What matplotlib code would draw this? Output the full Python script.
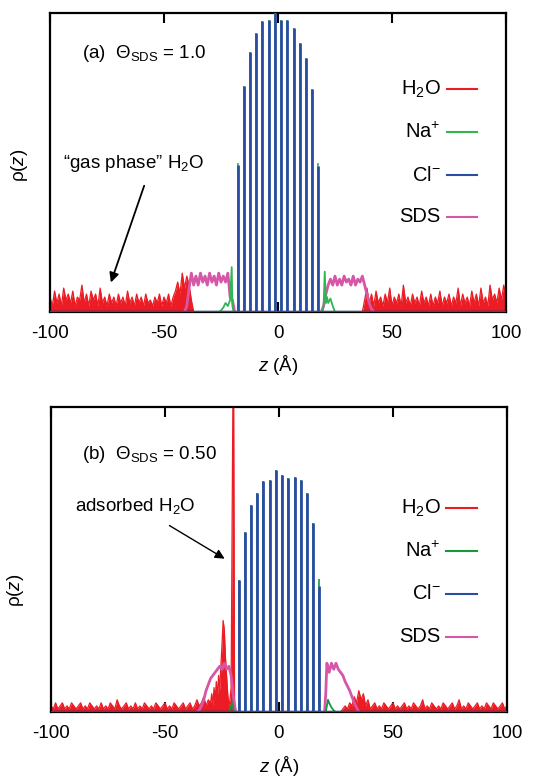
import matplotlib
matplotlib.use("Agg")
import matplotlib.pyplot as plt
import numpy as np

plt.rcParams["font.family"] = ["Liberation Sans", "DejaVu Sans"]
plt.rcParams["mathtext.fontset"] = "custom"
plt.rcParams["mathtext.rm"] = "Liberation Sans"
plt.rcParams["mathtext.it"] = "Liberation Sans:italic"

RED = "#ec1c24"
GREEN_A = "#2fb552"
GREEN_B = "#15993e"
BLUE = "#2b4ca3"
PINK = "#d656a7"

# ---- Cl- / Na+ crystal layer peaks (shared positions) ----
peak_z = [-17.6, -14.9, -12.2, -9.5, -6.8, -4.1, -1.4, 1.4, 4.1, 6.8, 9.5, 12.2, 14.9, 17.6]
cl_a = [0.49, 0.756, 0.871, 0.933, 0.972, 0.975, 1.0, 0.978, 0.975, 0.95, 0.90, 0.85, 0.745, 0.488]
na_a = [0.50, 0.756, 0.871, 0.933, 0.972, 0.975, 1.0, 0.978, 0.975, 0.95, 0.90, 0.85, 0.745, 0.497]
cl_b = [0.432, 0.590, 0.678, 0.718, 0.757, 0.762, 0.795, 0.776, 0.768, 0.770, 0.762, 0.718, 0.620, 0.412]
na_b = [0.432, 0.590, 0.678, 0.718, 0.757, 0.762, 0.795, 0.776, 0.768, 0.770, 0.762, 0.718, 0.620, 0.437]

# ---- panel (a): Theta_SDS = 1.0 ----
h2o_a_left_z = np.arange(-100, -36)
h2o_a_left = [0.05, 0.02, 0.07, 0.03, 0.06, 0.02, 0.08, 0.04, 0.06, 0.03,
              0.07, 0.02, 0.05, 0.04, 0.09, 0.03, 0.06, 0.02, 0.07, 0.04,
              0.06, 0.02, 0.08, 0.03, 0.05, 0.02, 0.06, 0.03, 0.05, 0.02,
              0.06, 0.03, 0.05, 0.02, 0.07, 0.03, 0.05, 0.02, 0.06, 0.03,
              0.05, 0.02, 0.06, 0.03, 0.04, 0.02, 0.05, 0.03, 0.06, 0.02,
              0.05, 0.03, 0.06, 0.02, 0.05,
              0.07, 0.10, 0.06, 0.13, 0.08, 0.12, 0.09, 0.04, 0.0]
h2o_a_right_z = np.arange(37, 101)
h2o_a_right = [0.0, 0.04, 0.08, 0.03, 0.06, 0.02, 0.07, 0.03, 0.05, 0.02,
               0.06, 0.03, 0.08, 0.02, 0.05, 0.03, 0.06, 0.02, 0.09, 0.03,
               0.05, 0.02, 0.06, 0.03, 0.05, 0.02, 0.07, 0.03, 0.05, 0.02,
               0.06, 0.02, 0.05, 0.03, 0.07, 0.02, 0.05, 0.03, 0.06, 0.02,
               0.05, 0.03, 0.08, 0.02, 0.06, 0.03, 0.05, 0.02, 0.07, 0.03,
               0.06, 0.02, 0.08, 0.03, 0.05, 0.02, 0.09, 0.04, 0.06, 0.03,
               0.08, 0.04, 0.09, 0.05]
sds_a_left_z = np.arange(-41, -18)
sds_a_left = [0.0, 0.02, 0.08, 0.13, 0.09, 0.12, 0.09, 0.13, 0.10, 0.12, 0.09, 0.13,
              0.10, 0.12, 0.09, 0.13, 0.10, 0.12, 0.10, 0.13, 0.05, 0.04, 0.0]
sds_a_right_z = np.arange(19, 43)
sds_a_right = [0.0, 0.02, 0.06, 0.09, 0.11, 0.09, 0.12, 0.09, 0.11, 0.09, 0.12, 0.10,
               0.11, 0.09, 0.12, 0.09, 0.11, 0.10, 0.12, 0.09, 0.06, 0.03, 0.01, 0.0]
na_a_left_z = [-26, -25, -24, -23, -22, -21, -20.3, -20, -19.6, -19]
na_a_left = [0.0, 0.005, 0.015, 0.03, 0.02, 0.04, 0.15, 0.02, 0.005, 0.0]
na_a_right_z = [19.5, 20, 20.5, 21, 21.5, 22, 23, 24, 25]
na_a_right = [0.0, 0.02, 0.135, 0.03, 0.05, 0.03, 0.045, 0.02, 0.0]

# ---- panel (b): Theta_SDS = 0.50 ----
h2o_b_left_z = np.r_[np.arange(-100, -30, 1.0), np.arange(-30, -18.5, 0.5)]
h2o_b_left = [0.02, 0.01, 0.03, 0.01, 0.02, 0.03, 0.01, 0.02, 0.01, 0.03,
              0.02, 0.01, 0.02, 0.03, 0.01, 0.02, 0.01, 0.03, 0.02, 0.01,
              0.02, 0.01, 0.03, 0.01, 0.02, 0.01, 0.03, 0.02, 0.01, 0.04,
              0.02, 0.01, 0.02, 0.03, 0.01, 0.02, 0.01, 0.03, 0.01, 0.02,
              0.01, 0.03, 0.02, 0.01, 0.02, 0.01, 0.03, 0.02, 0.01, 0.02,
              0.03, 0.01, 0.02, 0.01, 0.03, 0.02, 0.01, 0.02, 0.03, 0.01,
              0.02, 0.03, 0.01, 0.02, 0.04, 0.02, 0.03, 0.05, 0.02, 0.04,
              0.03, 0.06, 0.02, 0.08, 0.04, 0.10, 0.05, 0.12, 0.07, 0.15,
              0.22, 0.30, 0.27, 0.18, 0.12, 0.06, 0.02, 0.04, 0.08, 0.69,
              1.30, 0.03, 0.0]
h2o_b_right_z = np.arange(27, 101)
h2o_b_right = [0.0, 0.01, 0.02, 0.01, 0.03, 0.02, 0.05, 0.03, 0.07, 0.04,
               0.06, 0.02, 0.04, 0.01, 0.02, 0.03, 0.01, 0.02, 0.01, 0.03,
               0.02, 0.01, 0.02, 0.03, 0.01, 0.02, 0.01, 0.02, 0.03, 0.01,
               0.02, 0.01, 0.03, 0.02, 0.01, 0.02, 0.04, 0.01, 0.02, 0.01,
               0.03, 0.02, 0.01, 0.02, 0.01, 0.03, 0.02, 0.01, 0.02, 0.03,
               0.01, 0.02, 0.04, 0.01, 0.02, 0.01, 0.03, 0.02, 0.01, 0.02,
               0.03, 0.01, 0.02, 0.01, 0.03, 0.02, 0.01, 0.03, 0.02, 0.01,
               0.02, 0.03, 0.01, 0.02]
sds_b_left_z = np.arange(-36, -18)
sds_b_left = [0.0, 0.005, 0.02, 0.04, 0.07, 0.09, 0.11, 0.12, 0.13, 0.14, 0.15, 0.14,
              0.16, 0.14, 0.15, 0.12, 0.05, 0.0]
sds_b_right_z = [20, 20.5, 21, 22, 23, 24, 25, 26, 27, 28, 29, 30, 31, 32, 33, 34, 35]
sds_b_right = [0.0, 0.06, 0.16, 0.13, 0.16, 0.14, 0.16, 0.14, 0.13, 0.12, 0.10, 0.085,
               0.07, 0.05, 0.03, 0.015, 0.0]
na_b_left_z = [-22, -21.5, -21, -20.5, -20, -19.5]
na_b_left = [0.0, 0.01, 0.02, 0.03, 0.01, 0.0]
na_b_right_z = [20.5, 21, 21.5, 22, 23, 24, 25]
na_b_right = [0.0, 0.02, 0.04, 0.03, 0.015, 0.005, 0.0]

legend_labels = [r"H$_2$O", r"Na$^{+}$", r"Cl$^{-}$", "SDS"]


def draw_panel(ax, h2o, sds, na, cl, na_peaks, green, legend_y, legend_x, xlabelpad):
    for z, v in h2o:
        ax.fill_between(z, 0, v, color=RED, lw=0, zorder=2)
        ax.plot(z, v, color=RED, lw=0.9, zorder=2)
    for z, v in sds:
        ax.plot(z, v, color=PINK, lw=2.0, zorder=3)
    for z, v in na:
        ax.plot(z, v, color=green, lw=1.3, zorder=4)
    ax.vlines(peak_z, 0, na_peaks, color=green, lw=1.2, zorder=4)
    ax.vlines(peak_z, 0, cl, color=BLUE, lw=2.0, zorder=5)
    ax.axhline(0.002, color=BLUE, lw=1.0, zorder=5)

    ax.set_xlim(-100, 100)
    ax.set_ylim(0, 1)
    ax.set_yticks([])
    ax.set_xticks([-100, -50, 0, 50, 100])
    ax.set_xticklabels(["-100", "-50", "0", "50", "100"])
    ax.tick_params(axis="x", direction="in", top=True, length=7, width=1.5,
                   labelsize=13.5, pad=9)
    for s in ax.spines.values():
        s.set_linewidth(1.6)
    ax.set_xlabel(r"$z$ ($\mathrm{\AA}$)", fontsize=13.5, labelpad=xlabelpad)

    colors = [RED, green, BLUE, PINK]
    tx, lx0, lx1 = legend_x
    for lab, c, y in zip(legend_labels, colors, legend_y):
        ax.text(tx, y, lab, transform=ax.transAxes, ha="right", va="center",
                fontsize=14.5)
        ax.plot([lx0, lx1], [y, y], transform=ax.transAxes, color=c, lw=1.5)


fig = plt.figure(figsize=(5.52, 7.79), dpi=100)
ax_a = fig.add_axes([50 / 552, 1 - 312 / 779, 456 / 552, 299 / 779])
ax_b = fig.add_axes([51 / 552, 1 - 712 / 779, 456 / 552, 305 / 779])

draw_panel(ax_a,
           [(h2o_a_left_z, h2o_a_left), (h2o_a_right_z, h2o_a_right)],
           [(sds_a_left_z, sds_a_left), (sds_a_right_z, sds_a_right)],
           [(na_a_left_z, na_a_left), (na_a_right_z, na_a_right)],
           cl_a, na_a, GREEN_A,
           [0.746, 0.602, 0.458, 0.318], (0.857, 0.871, 0.937), 8)
draw_panel(ax_b,
           [(h2o_b_left_z, h2o_b_left), (h2o_b_right_z, h2o_b_right)],
           [(sds_b_left_z, sds_b_left), (sds_b_right_z, sds_b_right)],
           [(na_b_left_z, na_b_left), (na_b_right_z, na_b_right)],
           cl_b, na_b, GREEN_B,
           [0.669, 0.528, 0.387, 0.246], (0.855, 0.866, 0.934), 9)

ax_a.set_ylabel("\u03c1($z$)", fontsize=13.5)
ax_a.yaxis.set_label_coords(-0.044, 0.49)
ax_b.set_ylabel("\u03c1($z$)", fontsize=13.5)
ax_b.yaxis.set_label_coords(-0.055, 0.40)

ax_a.text(-86, 0.866, r"(a)  $\Theta_{\mathrm{SDS}}$ = 1.0", fontsize=13.5,
          va="center", ha="left")
ax_a.text(-94.3, 0.498, "\u201cgas phase\u201d H$_2$O", fontsize=13.5,
          va="center", ha="left")
ax_a.annotate("", xy=(-73.7, 0.09), xytext=(-58.3, 0.431),
              arrowprops=dict(arrowstyle="-|>", color="black", lw=1.3,
                              mutation_scale=14))

ax_b.text(-86.4, 0.843, r"(b)  $\Theta_{\mathrm{SDS}}$ = 0.50", fontsize=13.5,
          va="center", ha="left")
ax_b.text(-89.5, 0.675, "adsorbed H$_2$O", fontsize=13.5, va="center", ha="left")
ax_b.annotate("", xy=(-22.8, 0.498), xytext=(-49.1, 0.616),
              arrowprops=dict(arrowstyle="-|>", color="black", lw=1.0,
                              mutation_scale=14))

fig.savefig("out.png", dpi=100)
